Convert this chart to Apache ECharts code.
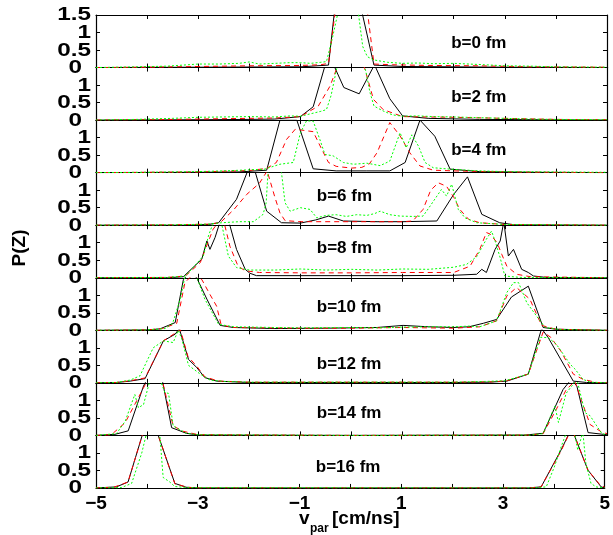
<!DOCTYPE html>
<html><head><meta charset="utf-8">
<script src="https://cdn.jsdelivr.net/npm/echarts@6/dist/echarts.min.js"></script>
<style>html,body{margin:0;padding:0;background:#fff}#c{width:613px;height:535px}</style>
</head><body><div id="c"></div><script>
// ---------------- data ----------------
const panelNames = ['b=0 fm','b=2 fm','b=4 fm','b=6 fm','b=8 fm','b=10 fm','b=12 fm','b=14 fm','b=16 fm'];
const xTickLabels = [-5,-3,-1,1,3,5];
const yTickLabels = [0,0.5,1];
const yTopLabel = 1.5;

const black0 = [[-5,0],[-3,0.01],[-1,0.02],[-0.45,0.07],[-0.25,2.7],[0,2.9],[0.44,0.07],[1,0.03],[3,0.01],[5,0]];
const red0 = [[-5,0],[-4,0.01],[-3,0.03],[-2,0.05],[-1,0.06],[-0.6,0.08],[-0.45,0.12],[-0.3,1.8],[-0.1,2.8],[0.2,2.5],[0.32,1.5],[0.44,0.1],[0.8,0.08],[1.5,0.06],[2.5,0.05],[3.5,0.02],[5,0.01]];
const green0 = [[-5,0],[-4.2,0.02],[-3.6,0.04],[-3,0.1],[-2.6,0.1],[-2.2,0.12],[-2,0.16],[-1.8,0.1],[-1.5,0.12],[-1.2,0.14],[-1,0.14],[-0.8,0.12],[-0.6,0.15],[-0.49,0.17],[-0.38,0.8],[-0.26,1.6],[0,2.5],[0.13,1.6],[0.22,0.6],[0.31,0.31],[0.43,0.22],[0.7,0.15],[1,0.12],[1.3,0.13],[1.6,0.11],[2,0.12],[2.3,0.1],[2.6,0.08],[3,0.05],[3.5,0.04],[4,0.02],[5,0.01]];

const black1 = [[-5,0],[-3,0.01],[-2,0.02],[-1.5,0.03],[-1,0.1],[-0.75,0.38],[-0.45,1.9],[-0.15,0.93],[0.15,0.75],[0.45,1.58],[0.75,0.61],[1,0.12],[1.5,0.05],[2.5,0.02],[5,0]];
const red1 = [[-5,0],[-4,0.01],[-3,0.03],[-2,0.05],[-1.5,0.06],[-1,0.1],[-0.65,0.4],[-0.42,0.97],[-0.29,1.47],[-0.1,2],[0.1,2],[0.26,1.47],[0.43,0.59],[0.62,0.3],[1,0.1],[2,0.08],[3,0.05],[4,0.02],[5,0.01]];
const green1 = [[-5,0],[-4.2,0.02],[-3.5,0.05],[-3,0.08],[-2.5,0.09],[-2,0.1],[-1.5,0.09],[-1.2,0.12],[-1,0.11],[-0.8,0.18],[-0.6,0.25],[-0.49,0.3],[-0.4,0.7],[-0.29,1.47],[-0.1,2.1],[0.1,2.1],[0.28,1.4],[0.36,0.8],[0.44,0.4],[0.62,0.26],[0.8,0.15],[1,0.11],[1.3,0.12],[1.6,0.1],[2,0.09],[2.5,0.07],[3,0.05],[3.5,0.03],[4,0.02],[5,0.01]];

const black2 = [[-5,0],[-3,0.01],[-2.2,0.02],[-1.66,0.07],[-1.4,1.5],[-1.07,1.5],[-0.75,0.11],[-0.3,0.05],[0.3,0.05],[0.75,0.05],[1.05,0.29],[1.34,1.5],[1.63,1.04],[1.93,0.1],[2.5,0.03],[3.5,0.01],[5,0]];
const red2 = [[-5,0],[-4,0.01],[-3,0.02],[-2.5,0.04],[-2,0.06],[-1.66,0.12],[-1.47,0.29],[-1.27,0.95],[-1.1,1.24],[-0.9,1.2],[-0.75,1.17],[-0.58,0.66],[-0.45,0.29],[-0.3,0.18],[0,0.13],[0.2,0.15],[0.35,0.25],[0.5,0.57],[0.75,1.43],[0.95,1.05],[1.14,0.57],[1.34,0.19],[1.6,0.07],[2,0.05],[3,0.02],[4,0.01],[5,0]];
const green2 = [[-5,0],[-4,0.01],[-3,0.03],[-2.5,0.05],[-2,0.08],[-1.7,0.1],[-1.4,0.24],[-1.14,0.29],[-1,1.14],[-0.88,1.48],[-0.75,1.47],[-0.62,0.95],[-0.52,0.52],[-0.36,0.48],[-0.16,0.29],[0.04,0.24],[0.3,0.27],[0.56,0.2],[0.75,0.33],[0.95,1.14],[1.07,0.71],[1.18,1.08],[1.31,0.76],[1.44,0.29],[1.6,0.14],[1.93,0.1],[2.5,0.05],[3,0.03],[4,0.02],[5,0.01]];

const black3 = [[-5,0],[-3.2,0],[-2.8,0.02],[-2.6,0.07],[-2.25,0.74],[-1.95,1.85],[-1.66,0.4],[-1.37,0.07],[-1,0.06],[-0.7,0.15],[-0.45,0.26],[-0.16,0.12],[0.5,0.1],[1,0.1],[1.67,0.12],[2,0.88],[2.27,1.38],[2.55,0.31],[2.9,0.07],[3.2,0.01],[5,0]];
const red3 = [[-5,0],[-3.5,0.01],[-2.8,0.03],[-2.57,0.07],[-2.3,0.45],[-2.05,0.88],[-1.8,1.2],[-1.65,1.55],[-1.5,0.8],[-1.4,0.35],[-1.3,0.13],[-1,0.1],[0,0.1],[1,0.1],[1.2,0.12],[1.4,0.45],[1.55,1],[1.7,1.21],[1.86,1.11],[2,0.8],[2.12,0.45],[2.29,0.17],[2.51,0.07],[3,0.02],[5,0]];
const green3 = [[-5,0],[-3.5,0.01],[-2.8,0.03],[-2.54,0.07],[-2.2,0.1],[-1.92,0.1],[-1.73,0.31],[-1.67,0.64],[-1.63,1.6],[-1.45,1.7],[-1.37,1.5],[-1.3,0.64],[-1.2,0.4],[-1,0.5],[-0.81,0.45],[-0.68,0.21],[-0.5,0.28],[-0.3,0.3],[-0.1,0.25],[0.1,0.3],[0.3,0.28],[0.45,0.33],[0.56,0.4],[0.75,0.3],[0.95,0.26],[1.2,0.25],[1.4,0.26],[1.54,0.55],[1.76,1.02],[1.86,0.83],[1.96,1.17],[2.09,0.45],[2.22,0.21],[2.45,0.07],[3,0.02],[5,0]];

const black4 = [[-5,0],[-3.6,0],[-3.29,0.03],[-2.93,0.53],[-2.83,1.05],[-2.77,0.81],[-2.67,1.15],[-2.55,1.7],[-2.4,1.6],[-2.25,0.81],[-2.08,0.24],[-1.99,0.13],[-1.86,0.06],[-1,0.06],[0,0.06],[1,0.06],[2,0.07],[2.45,0.1],[2.55,0.24],[2.64,0.15],[2.81,0.81],[2.91,1.05],[2.98,1.6],[3.07,0.62],[3.17,0.81],[3.33,0.24],[3.46,0.15],[3.56,0.05],[3.8,0.01],[5,0]];
const red4 = [[-5,0],[-3.6,0.01],[-3.25,0.05],[-2.96,0.43],[-2.71,1.38],[-2.6,1.6],[-2.48,1.5],[-2.38,0.9],[-2.22,0.33],[-2.08,0.2],[-1.8,0.15],[-1,0.14],[0,0.14],[1,0.15],[2,0.15],[2.32,0.33],[2.51,0.81],[2.64,1.29],[2.71,1.25],[2.85,1],[2.94,0.67],[3.04,0.33],[3.23,0.1],[3.5,0.03],[5,0]];
const green4 = [[-5,0],[-3.6,0.01],[-3.25,0.05],[-2.9,0.62],[-2.8,1.19],[-2.7,1.6],[-2.55,1.6],[-2.41,0.62],[-2.25,0.29],[-2,0.22],[-1.5,0.22],[-1,0.25],[-0.5,0.22],[0,0.24],[0.5,0.22],[1,0.25],[1.5,0.24],[2,0.3],[2.25,0.38],[2.45,0.6],[2.64,1.1],[2.74,1.33],[2.81,1.05],[2.91,0.57],[3,0.05],[3.3,0.01],[5,0]];

const black5 = [[-5,0],[-4,0.01],[-3.75,0.04],[-3.45,0.22],[-3.29,1.45],[-3.15,1.65],[-3.03,1.5],[-2.83,0.89],[-2.57,0.14],[-2.31,0.08],[-1.5,0.05],[-0.5,0.06],[0.5,0.08],[1.01,0.14],[1.5,0.1],[2,0.08],[2.3,0.1],[2.58,0.2],[2.84,0.31],[3.13,0.95],[3.46,1.26],[3.75,0.08],[4.01,0.03],[5,0]];
const red5 = [[-5,0],[-4,0.01],[-3.7,0.05],[-3.42,0.2],[-3.26,1.36],[-3.1,1.6],[-2.93,1.45],[-2.78,1.05],[-2.64,0.69],[-2.55,0.15],[-2.3,0.08],[-1,0.06],[0,0.06],[1,0.08],[2,0.06],[2.51,0.1],[2.84,0.27],[3.04,0.98],[3.23,1.22],[3.49,0.89],[3.72,0.14],[4,0.03],[5,0]];
const green5 = [[-5,0],[-4,0.01],[-3.65,0.05],[-3.5,0.2],[-3.35,0.9],[-3.25,1.6],[-3.05,1.6],[-2.87,0.89],[-2.6,0.17],[-2.3,0.1],[-1.5,0.08],[-1,0.07],[0,0.08],[0.5,0.07],[1,0.09],[1.5,0.1],[2,0.1],[2.3,0.12],[2.51,0.1],[2.84,0.27],[3.04,1.08],[3.17,1.36],[3.27,1.36],[3.43,0.79],[3.62,0.41],[3.79,0.08],[4.1,0.02],[5,0]];

const black6 = [[-5,0],[-4.6,0.01],[-4.33,0.05],[-4.04,0.12],[-3.68,1.2],[-3.45,1.39],[-3.37,1.55],[-3.19,0.67],[-3.03,0.44],[-2.87,0.15],[-2.64,0.05],[-2,0.01],[0,0.01],[2,0.01],[2.7,0.02],[3.04,0.05],[3.46,0.25],[3.72,1.55],[3.85,1.29],[4.34,0.05],[4.6,0.01],[5,0]];
const red6 = [[-5,0],[-4.6,0.01],[-4.33,0.06],[-4.04,0.14],[-3.68,1.2],[-3.45,1.42],[-3.35,1.52],[-3.2,0.75],[-3.03,0.48],[-2.87,0.17],[-2.6,0.05],[-2,0.02],[0,0.02],[2,0.02],[2.8,0.03],[3.04,0.06],[3.46,0.25],[3.75,1.45],[3.9,1.3],[4.1,0.9],[4.34,0.25],[4.53,0.1],[4.8,0.01],[5,0]];
const green6 = [[-5,0],[-4.6,0.01],[-4.33,0.08],[-4.14,0.2],[-3.88,1],[-3.68,1.2],[-3.49,1.15],[-3.39,1.5],[-3.32,1.25],[-3.19,0.5],[-2.96,0.25],[-2.77,0.08],[-2.5,0.04],[-2,0.02],[0,0.02],[2,0.02],[2.6,0.04],[3,0.06],[3.46,0.25],[3.7,1.3],[3.85,1.29],[4.01,1.1],[4.28,0.53],[4.37,0.4],[4.53,0.1],[4.67,0.02],[5,0]];

const black7 = [[-5,0],[-4.63,0.03],[-4.37,0.13],[-4.07,1.41],[-4,1.6],[-3.7,1.55],[-3.52,0.22],[-3.23,0.06],[-3,0.01],[0,0],[3.4,0.01],[3.75,0.06],[4.14,1.31],[4.3,1.6],[4.41,1.41],[4.63,0.08],[4.93,0.03],[5,0.02]];
const red7 = [[-5,0],[-4.7,0.02],[-4.43,0.36],[-4.2,1],[-4,1.55],[-3.7,1.55],[-3.49,0.27],[-3.3,0.12],[-3,0.02],[0,0],[3.5,0.01],[3.75,0.05],[4.01,0.75],[4.2,1.3],[4.37,1.55],[4.5,1],[4.67,0.31],[4.89,0.1],[5,0.05]];
const green7 = [[-5,0],[-4.6,0.05],[-4.43,0.4],[-4.24,1.17],[-4.17,0.79],[-4.07,0.88],[-3.94,1.6],[-3.75,1.6],[-3.65,1.22],[-3.58,1.2],[-3.49,0.27],[-3.23,0.06],[-3,0.02],[0,0],[3.5,0.01],[3.75,0.05],[3.98,0.84],[4.05,0.37],[4.2,1.2],[4.41,1.6],[4.57,0.65],[4.67,0.56],[4.8,0.27],[4.9,0.05],[5,0.02]];

const black8 = [[-5,0],[-4.6,0.03],[-4.37,0.17],[-4.05,1.7],[-3.8,1.6],[-3.45,0.13],[-3.23,0.02],[-3,0],[3.5,0],[3.75,0.03],[4.14,1.08],[4.35,1.7],[4.67,0.51],[4.93,0.03],[5,0]];
const red8 = [[-5,0],[-4.65,0.02],[-4.37,0.17],[-4.05,1.7],[-3.8,1.6],[-3.45,0.12],[-3.2,0.02],[-3,0],[3.5,0],[3.75,0.03],[4.14,1.05],[4.35,1.7],[4.67,0.51],[4.9,0.1],[5,0.02]];
const green8 = [[-5,0],[-4.5,0.01],[-4.3,0.13],[-4.1,1],[-4,1.6],[-3.75,1.6],[-3.68,0.3],[-3.55,0.17],[-3.45,0.04],[-3.2,0.01],[3.6,0],[3.85,0.03],[4.01,0.6],[4.15,1.2],[4.25,1.6],[4.41,1.55],[4.47,1.08],[4.57,1.6],[4.63,0.7],[4.73,0.13],[4.83,0.03],[5,0]];

const blackSets = [black0,black1,black2,black3,black4,black5,black6,black7,black8];
const redSets = [red0,red1,red2,red3,red4,red5,red6,red7,red8];
const greenSets = [green0,green1,green2,green3,green4,green5,green6,green7,green8];

// ---------------- layout ----------------
const FONT = '"Liberation Sans", Arial, Helvetica, sans-serif';
const L = 96, R = 6, TOP = 15, PH = 52.55;
const labelPos = [[1.95,0.68],[1.95,0.66],[1.95,0.64],[-0.68,0.83],[-0.68,0.84],[-0.68,0.67],[-0.68,0.52],[-0.68,0.63],[-0.68,0.59]];

const chart = echarts.init(document.getElementById('c'), null, {renderer:'canvas'});
const grids = [], xAxes = [], yAxes = [], series = [];
const tickStyle = {show:true, inside:true, length:4, lineStyle:{color:'#000', width:1}};
const lineStyleAx = {show:true, onZero:false, lineStyle:{color:'#000', width:1.2}};
const lblFont = {fontFamily:FONT, fontWeight:'bold', fontSize:19, color:'#000'};
for (let i = 0; i < 9; i++) {
  grids.push({left:L, right:R, top:TOP + i*PH, height:PH, containLabel:false});
  xAxes.push({gridIndex:i, type:'value', min:-5, max:5, interval:1, position:'bottom',
    axisLine:lineStyleAx, axisTick:tickStyle, splitLine:{show:false},
    axisLabel: Object.assign({show: i===8, margin:6, showMinLabel:true, showMaxLabel:true, hideOverlap:false,
      formatter: v => xTickLabels.includes(v) ? (v<0 ? '\u2212'+Math.abs(v) : String(v)) : ''}, lblFont)});
  xAxes.push({gridIndex:i, type:'value', min:-5, max:5, interval:1, position:'top',
    axisLine:lineStyleAx, axisTick:tickStyle, splitLine:{show:false}, axisLabel:{show:false}});
  yAxes.push({gridIndex:i, type:'value', min:0, max:1.5, interval:0.5, position:'left',
    axisLine:lineStyleAx, axisTick:tickStyle, splitLine:{show:false}, axisLabel:{show:false}});
  yAxes.push({gridIndex:i, type:'value', min:0, max:1.5, interval:0.5, position:'right',
    axisLine:lineStyleAx, axisTick:tickStyle, splitLine:{show:false}, axisLabel:{show:false}});
  const mk = (data, color, type, z) => ({type:'line', xAxisIndex:2*i, yAxisIndex:2*i, data:data,
    symbol:'none', clip:true, z:z, silent:true, animation:false,
    lineStyle:{color:color, width:1, type:type}});
  series.push(mk(blackSets[i], '#000000', 'solid', 3));
  series.push(mk(redSets[i], '#ff0000', [5,4], 4));
  series.push(mk(greenSets[i], '#00ff00', [2,2], 5));
}
chart.setOption({animation:false, backgroundColor:'#fff', grid:grids, xAxis:xAxes, yAxis:yAxes, series:series});

const graphics = [];
// y tick labels (placed through the axis scale)
for (let i = 0; i < 9; i++) {
  const vals = i === 0 ? yTickLabels.concat([yTopLabel]) : yTickLabels;
  vals.forEach(v => {
    const p = chart.convertToPixel({gridIndex:i}, [-5, v]);
    const isZero = v === 0;
    graphics.push({type:'text', x:p[0] - (isZero ? 14 : 5), y:p[1] + 0.5, scaleX:1.35, z:10,
      style:{text:String(v), font:'bold 18px ' + FONT, fill:'#000', textAlign:'right', textVerticalAlign:'middle'}});
  });
}
panelNames.forEach((t, i) => {
  const p = chart.convertToPixel({gridIndex:i}, labelPos[i]);
  graphics.push({type:'text', x:p[0], y:p[1], z:10,
    style:{text:t, font:'bold 17px ' + FONT, fill:'#000', textAlign:'left', textVerticalAlign:'middle'}});
});
graphics.push({type:'text', x:20, y:248, rotation:Math.PI/2, z:10,
  style:{text:'P(Z)', font:'bold 19px ' + FONT, fill:'#000', textAlign:'center', textVerticalAlign:'middle'}});
graphics.push({type:'text', x:299, y:528, z:10,
  style:{text:'v', font:'bold 19px ' + FONT, fill:'#000', textAlign:'left', textVerticalAlign:'bottom'}});
graphics.push({type:'text', x:310, y:535, z:10,
  style:{text:'par', font:'bold 12px ' + FONT, fill:'#000', textAlign:'left', textVerticalAlign:'bottom'}});
graphics.push({type:'text', x:332, y:528, z:10,
  style:{text:'[cm/ns]', font:'bold 19px ' + FONT, fill:'#000', textAlign:'left', textVerticalAlign:'bottom'}});
chart.setOption({graphic:graphics});
</script></body></html>
